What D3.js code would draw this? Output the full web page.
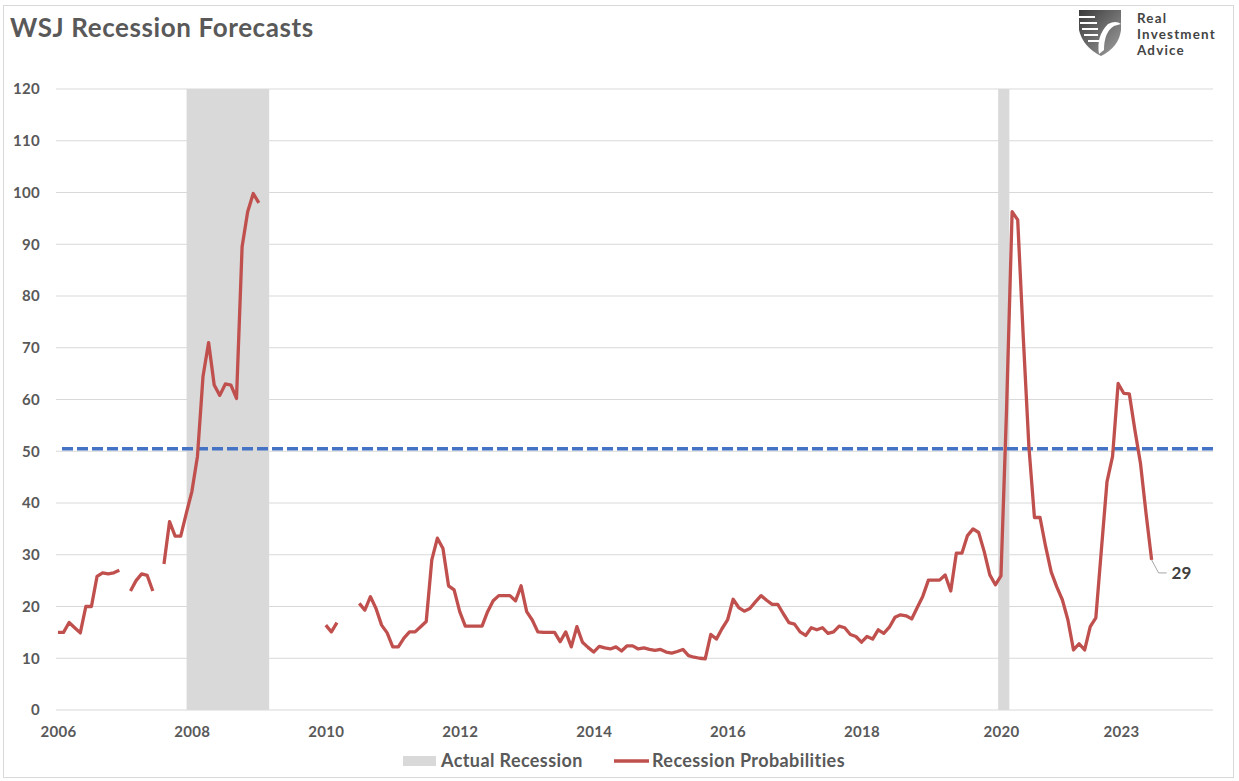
<!DOCTYPE html>
<html>
<head>
<meta charset="utf-8">
<script src="https://cdnjs.cloudflare.com/ajax/libs/d3/7.8.5/d3.min.js"></script>
<style>
	body { margin: 0; background: #fff; }
	svg { display: block; font-family: Lato, "Open Sans", sans-serif; font-weight: 700; }
</style>
</head>
<body>
<svg id="chart" width="1239" height="781"></svg>
<script>
// x positions are survey index (one step per survey), labels sit where the source put them
var yearLabels = ["2006", "2008", "2010", "2012", "2014", "2016", "2018", "2020", "2023"];
var yearTicks = [0, 24, 48, 72, 96, 120, 144, 169, 190.5];
var valueTicks = [0, 10, 20, 30, 40, 50, 60, 70, 80, 90, 100, 110, 120];

// recession probabilities (%), null = no survey
var probabilities = [
	15, 15, 16.9, 15.9, 14.9, 20, 20, 25.8, 26.5, 26.3, 26.5, 27,
	null, 23, 25, 26.3, 26, 23, null, 28.2, 36.4, 33.6, 33.6, 38,
	42.2, 49, 64.5, 71, 62.8, 60.8, 63, 62.8, 60.2, 89.5, 96.3, 99.8,
	98, null, null, null, null, null, null, null, null, null, null, null,
	16.4, 15.1, 16.9, null, null, null, 20.6, 19.3, 21.9, 19.6, 16.4, 14.9,
	12.2, 12.2, 13.9, 15.1, 15.1, 16.1, 17.1, 29, 33.2, 31.2, 24, 23.2,
	19, 16.2, 16.2, 16.2, 16.2, 19, 21.1, 22.1, 22.1, 22.1, 21.1, 24,
	19, 17.4, 15.1, 15, 15, 15, 13.2, 15.1, 12.2, 16.1, 13.1, 12.1,
	11.2, 12.3, 12.0, 11.8, 12.2, 11.4, 12.4, 12.4, 11.8, 12.0, 11.7, 11.5,
	11.7, 11.2, 11.0, 11.3, 11.7, 10.5, 10.2, 10.0, 9.9, 14.6, 13.7, 15.7,
	17.4, 21.4, 19.8, 19.1, 19.6, 20.9, 22.1, 21.2, 20.4, 20.4, 18.6, 16.9,
	16.6, 15.1, 14.4, 15.9, 15.5, 15.9, 14.8, 15.1, 16.2, 15.9, 14.6, 14.2,
	13.1, 14.2, 13.7, 15.5, 14.8, 16.0, 17.9, 18.4, 18.2, 17.6, 19.8, 22,
	25.1, 25.1, 25.1, 26.1, 23, 30.3, 30.3, 33.7, 35, 34.3, 30.6, 26.1,
	24.2, 25.9, 58, 96.3, 94.7, 72, 51, 37.2, 37.2, 31.6, 26.7, 23.8,
	21.3, 17.4, 11.6, 12.8, 11.6, 16.1, 17.8, 31, 44.1, 49, 63.1, 61.2,
	61.1, 54.1, 47.7, 38, 29
];

// recession spans in survey-index units
var recessionStart = [23.05, 168.5];
var recessionEnd = [37.85, 170.5];
var threshold = 50.5;
var logoWords = ["Real", "Investment", "Advice"];

var svg = d3.select("#chart");
var gray = "#595959";

var x = d3.scaleLinear().domain([-0.35, 207]).range([56, 1213]);
var y = d3.scaleLinear().domain([0, 120]).range([710, 89]);

// frame
svg.append("rect")
	.attr("x", 3.5).attr("y", 5.5)
	.attr("width", 1230).attr("height", 772)
	.attr("fill", "#fff")
	.attr("stroke", "#D9D9D9");

// title
svg.append("text")
	.attr("x", 10).attr("y", 37)
	.attr("fill", gray)
	.attr("font-size", 26)
	.attr("letter-spacing", 0.6)
	.text("WSJ Recession Forecasts");

// recession bands
svg.append("g").selectAll("rect")
	.data(recessionStart)
	.enter().append("rect")
	.attr("x", function(d) { return x(d); })
	.attr("y", y(120))
	.attr("width", function(d, i) { return x(recessionEnd[i]) - x(d); })
	.attr("height", y(0) - y(120))
	.attr("fill", "#D9D9D9");

// gridlines
svg.append("g").selectAll("line")
	.data(valueTicks)
	.enter().append("line")
	.attr("x1", x.range()[0]).attr("x2", x.range()[1])
	.attr("y1", function(d) { return y(d); })
	.attr("y2", function(d) { return y(d); })
	.attr("stroke", "#D9D9D9")
	.attr("stroke-width", 1.2);

// y axis labels
var yAxis = d3.axisLeft(y).tickValues(valueTicks).tickSize(0).tickPadding(0);
svg.append("g")
	.attr("transform", "translate(40,0)")
	.call(yAxis)
	.call(function(g) { g.select(".domain").remove(); })
	.selectAll("text")
	.attr("fill", gray)
	.attr("font-size", 15)
	.attr("letter-spacing", 0.3)
	.attr("font-family", "Lato, sans-serif")
	.attr("font-weight", 700);

// x axis labels
var xAxis = d3.axisBottom(x).tickValues(yearTicks)
	.tickFormat(function(d, i) { return yearLabels[i]; })
	.tickSize(0).tickPadding(0);
svg.append("g")
	.attr("transform", "translate(0,726)")
	.call(xAxis)
	.call(function(g) { g.select(".domain").remove(); })
	.selectAll("text")
	.attr("fill", gray)
	.attr("font-size", 15)
	.attr("letter-spacing", 0.3)
	.attr("font-family", "Lato, sans-serif")
	.attr("font-weight", 700);

// 50% threshold
svg.append("line")
	.attr("x1", 62).attr("x2", 1215)
	.attr("y1", y(threshold)).attr("y2", y(threshold))
	.attr("stroke", "#4472C4")
	.attr("stroke-width", 3.5)
	.attr("stroke-dasharray", "11,4");

// probability line
var line = d3.line()
	.defined(function(d) { return d != null; })
	.x(function(d, i) { return x(i); })
	.y(function(d) { return y(d); });

svg.append("path")
	.datum(probabilities)
	.attr("d", line)
	.attr("fill", "none")
	.attr("stroke", "#C0504D")
	.attr("stroke-width", 3.3)
	.attr("stroke-linejoin", "round");

// last value label
var lastIdx = probabilities.length - 1;
var lx = x(lastIdx), ly = y(probabilities[lastIdx]);
svg.append("path")
	.attr("d", "M" + lx + "," + ly + "L" + (lx + 7) + "," + (ly + 13) + "L" + (lx + 15) + "," + (ly + 13))
	.attr("fill", "none")
	.attr("stroke", "#A6A6A6")
	.attr("stroke-width", 1);
svg.append("text")
	.attr("x", lx + 20).attr("y", ly + 19)
	.attr("fill", "#404040")
	.attr("font-size", 17)
	.text(probabilities[lastIdx]);

// legend
var legend = svg.append("g").attr("font-size", 18).attr("letter-spacing", 0.4).attr("fill", gray);
legend.append("rect")
	.attr("x", 403).attr("y", 756)
	.attr("width", 33).attr("height", 10)
	.attr("fill", "#D9D9D9");
legend.append("text").attr("x", 441).attr("y", 767).text("Actual Recession");
legend.append("line")
	.attr("x1", 614).attr("x2", 649)
	.attr("y1", 761).attr("y2", 761)
	.attr("stroke", "#C0504D")
	.attr("stroke-width", 3.3);
legend.append("text").attr("x", 652).attr("y", 767).text("Recession Probabilities");

// logo
var defs = svg.append("defs");
var grad = defs.append("linearGradient").attr("id", "logoGrad")
	.attr("x1", 0).attr("y1", 0).attr("x2", 1).attr("y2", 1);
grad.append("stop").attr("offset", "0%").attr("stop-color", "#3a3a3a");
grad.append("stop").attr("offset", "100%").attr("stop-color", "#a0a0a0");

var logo = svg.append("g");
logo.append("path")
	.attr("d", "M1079,10 L1121,10 L1121,30 Q1119,47 1101,56 Q1083,47 1079,30 Z")
	.attr("fill", "url(#logoGrad)");
logo.append("path")
	.attr("d", "M1079,17 L1095,17 M1080,23 L1097,23 M1082,29 L1098,29 M1084,35 L1098,35 M1088,41 L1099,41")
	.attr("stroke", "#fff")
	.attr("stroke-width", 1.8);
logo.append("path")
	.attr("d", "M1099,54 Q1096,36 1108,24 Q1116,20 1121,24 L1114,26 Q1104,32 1104,50")
	.attr("fill", "#fff");
logo.append("g")
	.attr("fill", "#444")
	.attr("font-size", 13.4)
	.attr("letter-spacing", 1.2)
	.selectAll("text")
	.data(logoWords)
	.enter().append("text")
	.attr("x", 1137)
	.attr("y", function(d, i) { return 23 + i * 16.2; })
	.text(function(d) { return d; });
</script>
</body>
</html>
